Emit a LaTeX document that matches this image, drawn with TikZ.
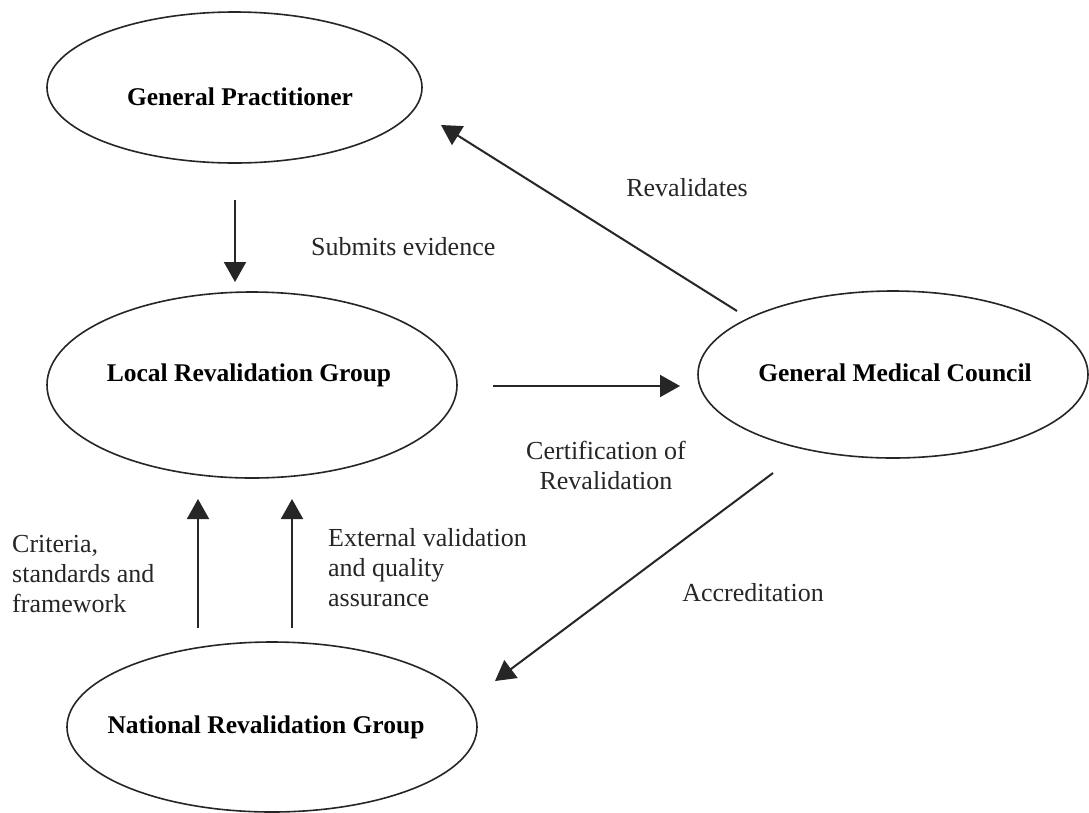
\documentclass[tikz,border=0pt]{standalone}
\usepackage{fontspec}
\setmainfont{Liberation Serif}
\usetikzlibrary{shapes.geometric,arrows.meta}
\begin{document}
\begin{tikzpicture}[x=1pt,y=-1pt,
  ell/.style={draw=black!85, line width=1.6pt, ellipse, inner sep=0pt},
  lbl/.style={font=\fontsize{25.5}{30}\selectfont\bfseries, text=black, inner sep=0pt},
  txt/.style={font=\fontsize{26}{30}\selectfont, text=black!85, inner sep=0pt},
  arr/.style={draw=black!85, line width=2pt, -{Triangle[width=22pt,length=20pt]}}]
\useasboundingbox[fill=white] (0,0) rectangle (1089,812);

% ellipses
\node[ell, minimum width=375pt, minimum height=151pt] (gp)  at (234.5,87.5) {};
\node[ell, minimum width=410pt, minimum height=186pt] (lrg) at (252,385) {};
\node[ell, minimum width=390pt, minimum height=167pt] (gmc) at (893,374.5) {};
\node[ell, minimum width=410pt, minimum height=170pt] (nrg) at (272,727) {};

% ellipse labels
\node[lbl] (gpt)  at (240,97)  {General Practitioner};
\node[lbl] (lrgt) at (249,375) {Local Revalidation Group};
\node[lbl] (gmct) at (895,373) {General Medical Council};
\node[lbl] (nrgt) at (266,727) {National Revalidation Group};

% arrow end points
\coordinate (a1s) at (235,200);
\coordinate (a1e) at (235,282);
\coordinate (a2s) at (493,386);
\coordinate (a2e) at (680,386);
\coordinate (a3s) at (737,311);
\coordinate (a3e) at (441,125);
\coordinate (a4s) at (773,473);
\coordinate (a4e) at (495,681);
\coordinate (a5s) at (198,628);
\coordinate (a5e) at (198,499);
\coordinate (a6s) at (292,628);
\coordinate (a6e) at (292,499);

% connectors
\draw[arr] (a1s) -- (a1e);
\draw[arr] (a2s) -- (a2e);
\draw[arr] (a3s) -- (a3e);
\draw[arr] (a4s) -- (a4e);
\draw[arr] (a5s) -- (a5e);
\draw[arr] (a6s) -- (a6e);

% connector labels
\node[txt, anchor=west] (l1) at (311,247) {Submits evidence};
\node[txt] (l2) at (687,188) {Revalidates};
\node[txt, align=center] (l3) at (606,465) {Certification of\\Revalidation};
\node[txt] (l4) at (753,593) {Accreditation};
\node[txt, anchor=west, align=left] (l5) at (12,574) {Criteria,\\standards and\\framework};
\node[txt, anchor=west, align=left] (l6) at (328,568) {External validation\\and quality\\assurance};
\end{tikzpicture}
\end{document}
